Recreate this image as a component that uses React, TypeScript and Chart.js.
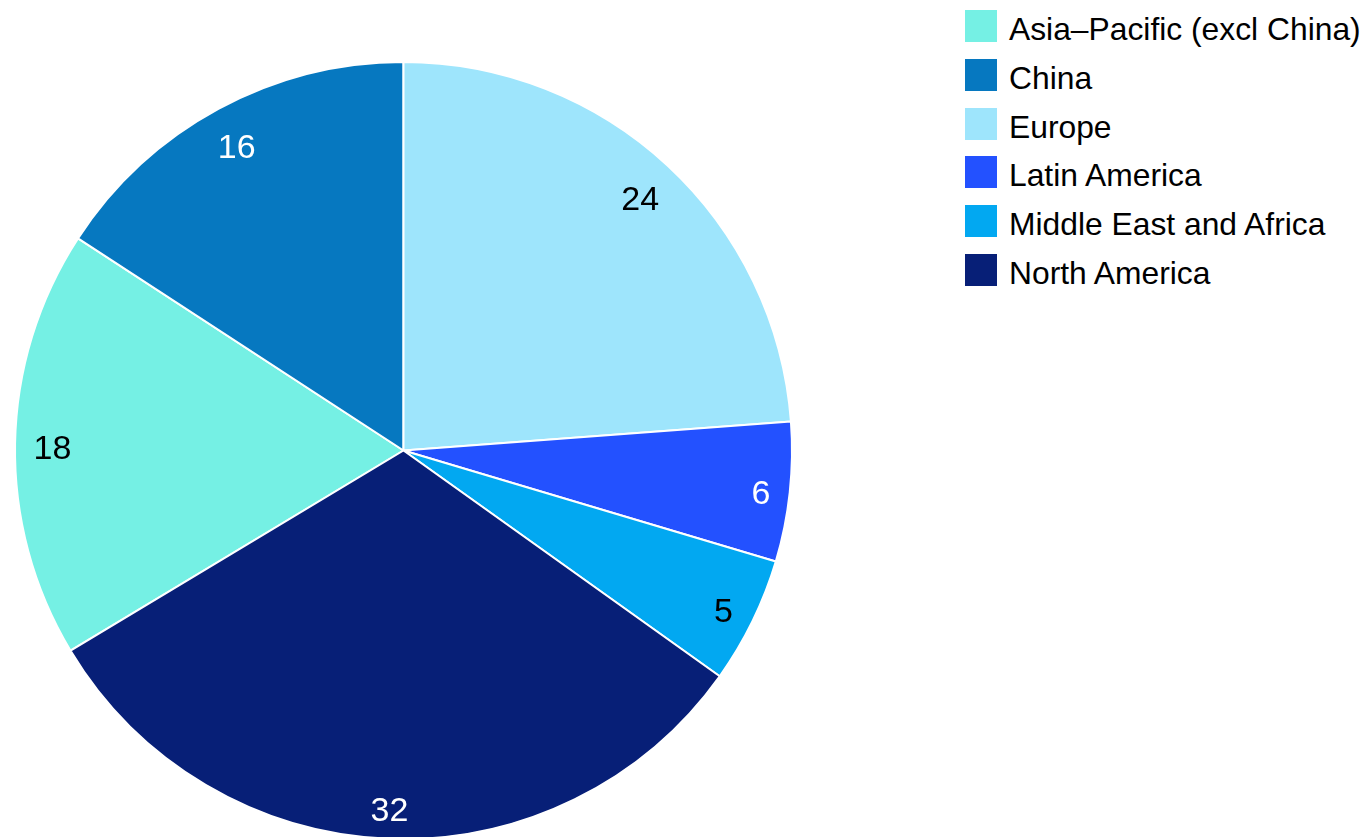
import React, { useEffect, useRef } from "react";
import { Chart, registerables } from "chart.js";

Chart.register(...registerables);

// ---- data ----
const categories = [
  "Asia–Pacific (excl China)",
  "China",
  "Europe",
  "Latin America",
  "Middle East and Africa",
  "North America",
];
const shares = [17.8, 15.8, 23.8, 5.8, 5.25, 31.5];
const valueLabels = ["18", "16", "24", "6", "5", "32"];

// ---- styles ----
const colors = ["#75F0E4", "#0678C0", "#9EE5FC", "#2351FF", "#02A8F1", "#071F77"];
const labelColors = ["#000000", "#ffffff", "#000000", "#ffffff", "#000000", "#ffffff"];
const FONT = "'Liberation Sans', Arial, Helvetica, sans-serif";

const total = shares.reduce((a, b) => a + b, 0);
// Europe starts at 12 o'clock
const rotation = -360 * (shares[0] + shares[1]) / total;

const sliceLabelPlugin = {
  id: "sliceLabels",
  afterDatasetsDraw(chart: any) {
    const ctx = chart.ctx;
    const meta = chart.getDatasetMeta(0);
    ctx.save();
    ctx.font = `34px ${FONT}`;
    ctx.textAlign = "center";
    ctx.textBaseline = "middle";
    meta.data.forEach((arc: any, i: number) => {
      const { x, y, startAngle, endAngle, outerRadius } = arc.getProps(
        ["x", "y", "startAngle", "endAngle", "outerRadius"],
        true
      );
      const mid = (startAngle + endAngle) / 2;
      const cx = Math.cos(mid);
      const cy = Math.sin(mid);
      const text = valueLabels[i];
      const hw = ctx.measureText(text).width / 2;
      const hh = 13;
      const L = outerRadius - 18;
      const b = hw * Math.abs(cx) + hh * Math.abs(cy);
      const d = -b + Math.sqrt(b * b - (hw * hw + hh * hh - L * L));
      ctx.fillStyle = labelColors[i];
      ctx.fillText(text, x + cx * d, y + cy * d + 5.5);
    });
    ctx.restore();
  },
};

export default function App() {
  const canvasRef = useRef<HTMLCanvasElement | null>(null);

  useEffect(() => {
    if (!canvasRef.current) return;
    const chart = new Chart(canvasRef.current, {
      type: "pie",
      data: {
        labels: categories,
        datasets: [
          {
            data: shares,
            backgroundColor: colors,
            borderColor: "#ffffff",
            borderWidth: 2,
          },
        ],
      },
      options: {
        responsive: false,
        animation: false,
        rotation: rotation,
        layout: { padding: { left: 14, top: 61, right: 7, bottom: 10 } },
        plugins: {
          legend: { display: false },
          tooltip: { enabled: false },
        },
      },
      plugins: [sliceLabelPlugin],
    });
    return () => chart.destroy();
  }, []);

  return (
    <div
      style={{
        position: "fixed",
        left: 0,
        top: 0,
        width: 1362,
        height: 837,
        overflow: "hidden",
        background: "#ffffff",
      }}
    >
      <canvas
        ref={canvasRef}
        width={800}
        height={850}
        style={{ position: "absolute", left: 0, top: 0, width: 800, height: 850 }}
      />
      {categories.map((c, i) => (
        <div
          key={c}
          style={{
            position: "absolute",
            left: 965,
            top: 10 + i * 48.8,
            height: 32,
            display: "flex",
            alignItems: "flex-start",
            whiteSpace: "nowrap",
          }}
        >
          <div style={{ width: 32, height: 32, background: colors[i] }} />
          <div
            style={{
              marginLeft: 12,
              fontFamily: FONT,
              fontSize: 31.8,
              lineHeight: "32px",
              marginTop: 3,
              color: "#000",
            }}
          >
            {c}
          </div>
        </div>
      ))}
    </div>
  );
}
